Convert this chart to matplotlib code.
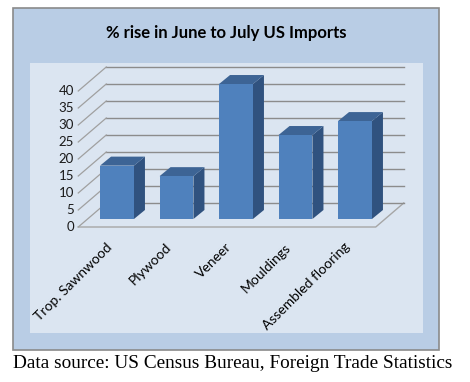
import matplotlib
matplotlib.use("Agg")
import matplotlib.pyplot as plt
from matplotlib.patches import Rectangle

categories = ["Trop. Sawnwood", "Plywood", "Veneer", "Mouldings", "Assembled flooring"]
rise_pct = [15.7, 12.6, 39.7, 24.7, 28.8]
y_ticks = [0, 5, 10, 15, 20, 25, 30, 35, 40]

W, H = 470, 382
fig = plt.figure(figsize=(W / 100, H / 100), dpi=100)
fig.patch.set_facecolor("white")


def fx(x, y):
    # pixel (from top-left) -> figure fraction
    return x / W, 1 - y / H


# outer chart area and inner plot area
x0, y0 = fx(13, 350)
fig.patches.append(Rectangle((x0, y0), 426 / W, 342 / H, transform=fig.transFigure,
                             facecolor="#b9cde5", edgecolor="#8a8a8a", lw=1.2, zorder=-2))
x0, y0 = fx(30, 333)
fig.patches.append(Rectangle((x0, y0), 393 / W, 270 / H, transform=fig.transFigure,
                             facecolor="#dbe5f1", edgecolor="none", zorder=-1))

fig.text(226 / W, 1 - 33 / H, "% rise in June to July US Imports", ha="center", va="center",
         fontsize=12, fontweight="bold", family="Lato", color="black")

# axes = the plane of the bar fronts
left, bottom = fx(87.25, 219)
ax = fig.add_axes([left, bottom, 297.5 / W, 136 / H], zorder=2)
ax.set_xlim(-0.5, len(categories) - 0.5)
ax.set_ylim(0, 40)
ax.axis("off")
ax.patch.set_alpha(0)

sx = len(categories) / 297.5   # data units per pixel
sy = 40 / 136.0


def off(px, py):
    return px * sx, py * sy


fdx, fdy = off(-9, -8)    # front edge of floor
bdx, bdy = off(19, 16)    # back wall
ddx, ddy = off(11, 9)     # bar depth

xl, xr = -0.5, len(categories) - 0.5
grid_c = "#8c8c8c"

# floor
ax.fill([xl + fdx, xr + fdx, xr + bdx, xl + bdx], [fdy, fdy, bdy, bdy],
        facecolor="#dbe5f1", edgecolor="none", zorder=1, clip_on=False)
ax.plot([xl + fdx, xr + fdx, xr + bdx], [fdy, fdy, bdy], color="#a6a6a6", lw=1,
        zorder=1, clip_on=False)

# back wall gridlines + left wall diagonals
for v in y_ticks:
    ax.plot([xl + bdx, xr + bdx], [v + bdy, v + bdy], color=grid_c, lw=1, zorder=1, clip_on=False)
    ax.plot([xl + fdx, xl + bdx], [v + fdy, v + bdy], color="#a0a0a0", lw=0.9, zorder=1, clip_on=False)
    ax.annotate(str(v), (xl + fdx, v + fdy), xytext=(-3, 0), textcoords="offset points",
                ha="right", va="center", fontsize=9.5, family="Lato", color="#1a1a1a",
                annotation_clip=False)

# bars
bw = 0.57
xs = list(range(len(categories)))
for i, v in zip(xs, rise_pct):
    l, r = i - bw / 2, i + bw / 2
    ax.fill([r, r + ddx, r + ddx, r], [0, ddy, v + ddy, v], facecolor="#30527f",
            edgecolor="none", zorder=2, clip_on=False)
    ax.fill([l, r, r + ddx, l + ddx], [v, v, v + ddy, v + ddy], facecolor="#3d6495",
            edgecolor="none", zorder=2, clip_on=False)
ax.bar(xs, rise_pct, width=bw, color="#4f81bd", zorder=3, clip_on=False)

# category labels
for i, name in zip(xs, categories):
    ax.annotate(name, (i + fdx, fdy), xytext=(1.5, -13), textcoords="offset points",
                ha="right", va="center", rotation=45, rotation_mode="anchor",
                fontsize=10, family="Lato", color="black", annotation_clip=False)

fig.text(13 / W, 1 - 363 / H, "Data source: US Census Bureau, Foreign Trade Statistics",
         ha="left", va="center", fontsize=13.9, family="Liberation Serif", color="black")

fig.savefig("out.png", dpi=100)
